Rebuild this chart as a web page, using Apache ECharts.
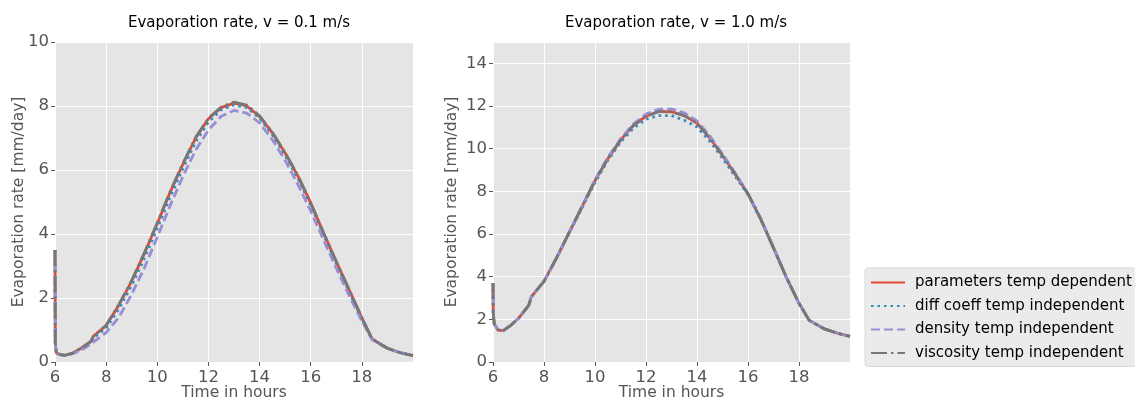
<!DOCTYPE html>
<html>
<head>
<meta charset="utf-8">
<script src="https://cdn.jsdelivr.net/npm/echarts@6/dist/echarts.min.js"></script>
<style>
  html, body { margin: 0; padding: 0; background: #fff; }
  #chart { width: 1135px; height: 398px; }
</style>
</head>
<body>
<div id="chart"></div>
<script>
// time axis shared by all curves (hours)
const hours = [6, 6.01, 6.05, 6.2, 6.4, 6.7, 7.0, 7.4, 7.5, 8.0, 8.5, 9.0, 9.5, 10.0, 10.5, 11.0, 11.5, 12.0,
    12.5, 13.0, 13.5, 14.0, 14.5, 15.0, 15.5, 16.0, 16.5, 17.0, 17.5, 18.0, 18.4, 19.0, 19.5, 20.0];

const seriesNames = ["parameters temp dependent", "diff coeff temp independent", "density temp independent", "viscosity temp independent"];

// v = 0.1 m/s
const slowParams = [3.5, 0.6, 0.28, 0.23, 0.21, 0.28, 0.42, 0.64, 0.8, 1.14, 1.78, 2.53, 3.4, 4.33, 5.3, 6.18, 7.0, 7.6,
    7.95, 8.09, 8.0, 7.67, 7.16, 6.53, 5.81, 4.97, 4.04, 3.14, 2.26, 1.38, 0.72, 0.43, 0.29, 0.2];
const slowDiff = [3.5, 0.6, 0.28, 0.23, 0.21, 0.27, 0.4, 0.61, 0.75, 1.06, 1.66, 2.4, 3.25, 4.18, 5.15, 6.05, 6.88, 7.5,
    7.88, 8.03, 7.95, 7.62, 7.1, 6.46, 5.73, 4.9, 3.98, 3.08, 2.2, 1.35, 0.72, 0.43, 0.29, 0.2];
const slowDensity = [3.5, 0.6, 0.28, 0.23, 0.21, 0.26, 0.36, 0.55, 0.62, 0.92, 1.4, 2.12, 2.95, 3.9, 4.88, 5.8, 6.62, 7.25,
    7.68, 7.86, 7.78, 7.47, 6.95, 6.3, 5.55, 4.72, 3.82, 2.93, 2.08, 1.28, 0.7, 0.42, 0.3, 0.2];
const slowViscosity = [3.5, 0.6, 0.28, 0.23, 0.21, 0.28, 0.42, 0.64, 0.8, 1.15, 1.8, 2.55, 3.42, 4.35, 5.32, 6.2, 7.02, 7.62,
    7.97, 8.12, 8.03, 7.69, 7.18, 6.54, 5.82, 4.97, 4.04, 3.14, 2.26, 1.38, 0.72, 0.43, 0.29, 0.2];

// v = 1.0 m/s
const fastParams = [3.7, 2.3, 1.78, 1.5, 1.47, 1.72, 2.05, 2.65, 3.05, 3.78, 4.9, 6.1, 7.3, 8.5, 9.52, 10.4, 11.08, 11.52,
    11.74, 11.73, 11.55, 11.2, 10.5, 9.68, 8.8, 7.88, 6.7, 5.35, 3.98, 2.75, 1.95, 1.55, 1.35, 1.2];
const fastDiff = [3.7, 2.3, 1.78, 1.5, 1.47, 1.72, 2.05, 2.65, 3.05, 3.78, 4.88, 6.06, 7.25, 8.42, 9.45, 10.3, 10.95, 11.38,
    11.55, 11.55, 11.33, 11.02, 10.35, 9.55, 8.7, 7.85, 6.68, 5.34, 3.98, 2.75, 1.95, 1.55, 1.35, 1.2];
const fastDensity = [3.7, 2.3, 1.78, 1.5, 1.47, 1.72, 2.05, 2.65, 3.05, 3.78, 4.9, 6.12, 7.33, 8.55, 9.58, 10.45, 11.15, 11.62,
    11.85, 11.86, 11.68, 11.3, 10.6, 9.75, 8.85, 7.9, 6.72, 5.36, 3.98, 2.75, 1.95, 1.55, 1.35, 1.2];
const fastViscosity = [3.7, 2.3, 1.78, 1.5, 1.47, 1.72, 2.05, 2.65, 3.05, 3.78, 4.9, 6.1, 7.3, 8.5, 9.52, 10.4, 11.08, 11.52,
    11.74, 11.73, 11.55, 11.2, 10.5, 9.68, 8.8, 7.88, 6.7, 5.35, 3.98, 2.75, 1.95, 1.55, 1.35, 1.2];

const colors = ["#E24A33", "#348ABD", "#988ED5", "#777777"];
const dashes = ["solid", [2.5, 4], [9, 4], [16, 4, 2.5, 4]];
const font = "DejaVu Sans";

function pairs(values) {
    return hours.map((h, i) => [h, values[i]]);
}

function makeSeries(list, idx) {
    return list.map((values, k) => ({
        name: seriesNames[k],
        type: "line",
        xAxisIndex: idx,
        yAxisIndex: idx,
        data: pairs(values),
        showSymbol: false,
        symbol: "none",
        animation: false,
        color: colors[k],
        lineStyle: { width: 2.8, color: colors[k], type: dashes[k] },
        z: 2 + k,
    }));
}

function xAxis(idx) {
    return {
        type: "value", gridIndex: idx, min: 6, max: 20, interval: 2,
        name: "Time in hours", nameLocation: "middle", nameGap: 23, nameMoveOverlap: false,
        nameTextStyle: { fontFamily: font, fontSize: 15.5, color: "#555" },
        axisLine: { show: false },
        axisTick: { show: true, length: 4, lineStyle: { color: "#555" } },
        axisLabel: { fontFamily: font, fontSize: 16.5, color: "#555", margin: 7, showMaxLabel: false },
        splitLine: { show: true, lineStyle: { color: "#fff", width: 1 } },
    };
}

function yAxis(idx, max, gap) {
    return {
        type: "value", gridIndex: idx, min: 0, max: max, interval: 2,
        name: "Evaporation rate [mm/day]", nameLocation: "middle", nameGap: gap, nameMoveOverlap: false,
        nameTextStyle: { fontFamily: font, fontSize: 15.5, color: "#555" },
        axisLine: { show: false },
        axisTick: { show: true, length: 4, lineStyle: { color: "#555" } },
        axisLabel: { fontFamily: font, fontSize: 16.5, color: "#555", margin: 6, showMaxLabel: max % 2 === 0 },
        splitLine: { show: true, lineStyle: { color: "#fff", width: 1 } },
    };
}

const chart = echarts.init(document.getElementById("chart"), null, { renderer: "canvas" });
const option = {
    backgroundColor: "#fff",
    animation: false,
    title: [
        { text: "Evaporation rate, v = 0.1 m/s", left: 234, top: 11, textAlign: "center",
          textStyle: { fontFamily: font, fontSize: 15, fontWeight: "normal", color: "#000" } },
        { text: "Evaporation rate, v = 1.0 m/s", left: 671, top: 11, textAlign: "center",
          textStyle: { fontFamily: font, fontSize: 15, fontWeight: "normal", color: "#000" } },
    ],
    grid: [
        { left: 55, top: 42, width: 358, height: 320, show: true, backgroundColor: "#E5E5E5", borderWidth: 0, outerBoundsMode: "none" },
        { left: 493, top: 42, width: 357, height: 320, show: true, backgroundColor: "#E5E5E5", borderWidth: 0, outerBoundsMode: "none" },
    ],
    xAxis: [xAxis(0), xAxis(1)],
    yAxis: [yAxis(0, 10, 28), yAxis(1, 15, 33)],
    legend: {
        orient: "vertical",
        left: 865, top: 268,
        padding: [7, 4, 6, 5],
        itemWidth: 34, itemHeight: 14, itemGap: 8.5,
        backgroundColor: "#EBEBEB",
        borderColor: "#D8D8D8", borderWidth: 1, borderRadius: 3,
        itemStyle: { opacity: 0 },
        textStyle: { fontFamily: font, fontSize: 15, color: "#000", padding: [0, 0, 0, 5] },
        data: seriesNames,
    },
    series: [
        ...makeSeries([slowParams, slowDiff, slowDensity, slowViscosity], 0),
        ...makeSeries([fastParams, fastDiff, fastDensity, fastViscosity], 1),
    ],
};
chart.setOption(option);
</script>
</body>
</html>
